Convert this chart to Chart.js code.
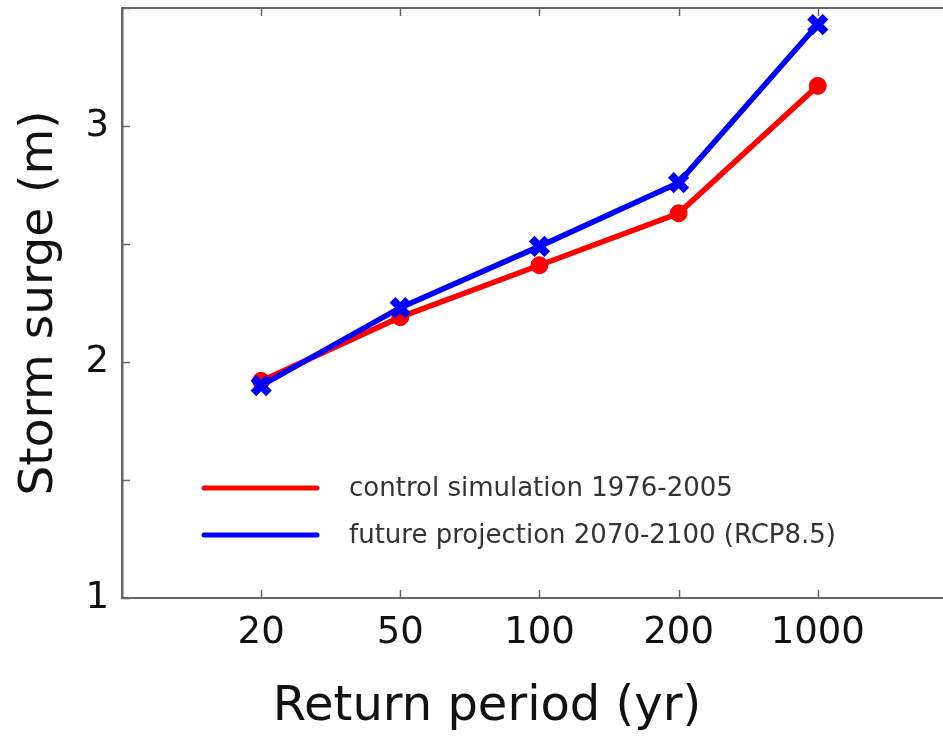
<!DOCTYPE html>
<html>
<head>
<meta charset="utf-8">
<script src="https://cdn.jsdelivr.net/npm/chart.js@4.4.0/dist/chart.umd.min.js"></script>
<style>
  html, body { margin: 0; padding: 0; background: #fff; overflow: hidden; }
  canvas { display: block; }
</style>
</head>
<body>
<canvas id="surge" width="943" height="736"></canvas>
<script>
// data
const periods = ['20', '50', '100', '200', '1000'];
const control = [1.92, 2.19, 2.41, 2.63, 3.17];
const future  = [1.90, 2.23, 2.49, 2.76, 3.43];
const seriesLabels = ['control simulation 1976-2005', 'future projection 2070-2100 (RCP8.5)'];
const yTicks = [1, 1.5, 2, 2.5, 3, 3.5];

const axisGrey = '#666';
const font = 'DejaVu Sans';

const toPoints = arr => arr.map((v, i) => ({ x: i, y: v }));
const idxTicks = scale => { scale.ticks = periods.map((_, i) => ({ value: i })); };

// inward tick marks, matplotlib style
const innerTicks = {
    id: 'innerTicks',
    afterDraw(chart) {
        const { ctx, chartArea: a, scales } = chart;
        ctx.save();
        ctx.strokeStyle = axisGrey;
        ctx.lineWidth = 1.5;
        ctx.beginPath();
        scales.x.ticks.forEach(t => {
            const px = Math.round(scales.x.getPixelForValue(t.value)) + 0.5;
            ctx.moveTo(px, a.bottom); ctx.lineTo(px, a.bottom - 8);
            ctx.moveTo(px, a.top);    ctx.lineTo(px, a.top + 8);
        });
        scales.y.ticks.forEach(t => {
            const py = Math.round(scales.y.getPixelForValue(t.value)) + 0.5;
            ctx.moveTo(a.left, py); ctx.lineTo(a.left + 8, py);
        });
        ctx.stroke();
        ctx.restore();
    }
};

// legend inside the axes + x title placed like the original
const extras = {
    id: 'extras',
    afterDraw(chart) {
        const { ctx, chartArea: a } = chart;
        ctx.save();
        const legendSets = chart.data.datasets.slice().sort((p, q) => q.order - p.order);
        legendSets.forEach((ds, i) => {
            const y = 488 + i * 47;
            ctx.strokeStyle = ds.borderColor;
            ctx.lineWidth = 5;
            ctx.lineCap = 'round';
            ctx.beginPath();
            ctx.moveTo(a.left + 82, y);
            ctx.lineTo(a.left + 195, y);
            ctx.stroke();
            ctx.fillStyle = '#333';
            ctx.font = '26px "' + font + '"';
            ctx.textBaseline = 'middle';
            ctx.textAlign = 'left';
            ctx.fillText(ds.label, a.left + 227, y + 1);
        });
        ctx.fillStyle = '#111';
        ctx.font = '48px "' + font + '"';
        ctx.textAlign = 'center';
        ctx.textBaseline = 'middle';
        ctx.fillText('Return period (yr)', 487, 708);
        ctx.restore();
    }
};

new Chart(document.getElementById('surge'), {
    type: 'line',
    data: {
        datasets: [
            {
                label: seriesLabels[0],
                data: toPoints(control),
                borderColor: '#ff0000',
                backgroundColor: '#ff0000',
                borderWidth: 5.5,
                pointStyle: 'circle',
                pointRadius: 8.5,
                pointBorderWidth: 1,
                pointBackgroundColor: '#ff0000',
                tension: 0,
                order: 2
            },
            {
                label: seriesLabels[1],
                data: toPoints(future),
                borderColor: '#0000ff',
                backgroundColor: '#0000ff',
                borderWidth: 5.5,
                pointStyle: 'crossRot',
                pointRadius: 11,
                pointBorderWidth: 8,
                tension: 0,
                order: 1
            }
        ]
    },
    options: {
        responsive: false,
        animation: false,
        layout: { padding: 0, autoPadding: false },
        plugins: { legend: { display: false }, tooltip: { enabled: false } },
        scales: {
            x: {
                type: 'linear', position: 'bottom', min: -1, max: 4.9,
                afterBuildTicks: idxTicks,
                afterFit: s => { s.height = 138; s.paddingLeft = 0; s.paddingRight = 0; },
                grid: { display: false, drawTicks: false },
                border: { color: axisGrey, width: 2 },
                ticks: { callback: v => periods[v], color: '#111', padding: 13, maxRotation: 0,
                         font: { family: font, size: 37 } }
            },
            x2: {
                type: 'linear', position: 'top', min: -1, max: 4.9,
                afterBuildTicks: idxTicks,
                afterFit: s => { s.height = 8; s.paddingLeft = 0; s.paddingRight = 0; },
                grid: { display: false, drawTicks: false },
                border: { color: axisGrey, width: 2 },
                ticks: { display: false }
            },
            y: {
                type: 'linear', position: 'left', min: 1, max: 3.5,
                afterBuildTicks: s => { s.ticks = yTicks.map(v => ({ value: v })); },
                afterFit: s => { s.width = 122; s.paddingTop = 0; s.paddingBottom = 0; },
                grid: { display: false, drawTicks: false },
                border: { color: axisGrey, width: 2.5 },
                ticks: { callback: v => Number.isInteger(v) ? v : '', color: '#111', padding: 13,
                         font: { family: font, size: 37 } },
                title: { display: true, text: 'Storm surge (m)', color: '#111',
                         padding: { top: 12, bottom: 0 }, font: { family: font, size: 47 } }
            }
        }
    },
    plugins: [innerTicks, extras]
});
</script>
</body>
</html>
